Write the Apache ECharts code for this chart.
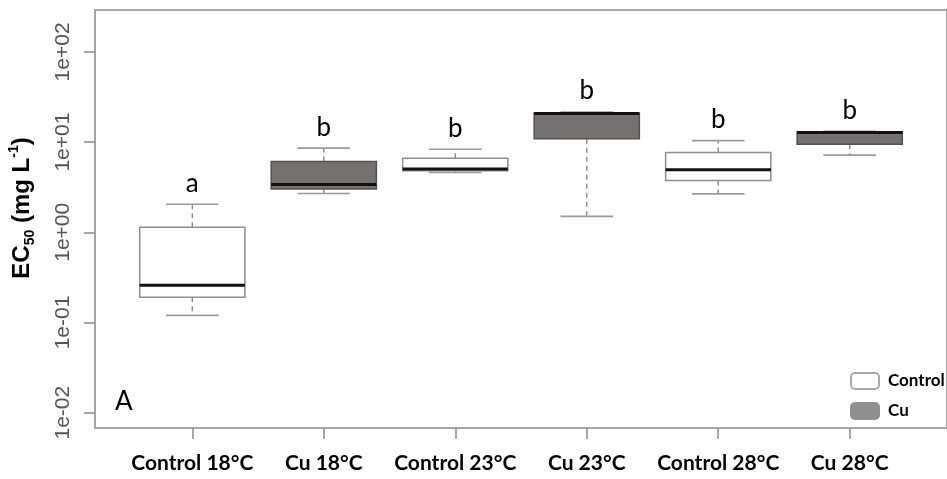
<!DOCTYPE html>
<html lang="en">
<head>
    <meta charset="UTF-8">
    <title>EC50 boxplot</title>
    <script type="text/javascript" src="https://cdn.jsdelivr.net/npm/echarts@6/dist/echarts.min.js"></script>
    <style>
        html, body { margin: 0; padding: 0; background: #fff; }
        #main { width: 947px; height: 479px; }
    </style>
</head>
<body>
<div id="main"></div>
<script type="text/javascript">
// groups along the x axis
var categories = ['Control 18°C', 'Cu 18°C', 'Control 23°C', 'Cu 23°C', 'Control 28°C', 'Cu 28°C'];
var groups = ['Control', 'Cu', 'Control', 'Cu', 'Control', 'Cu'];
var letters = ['a', 'b', 'b', 'b', 'b', 'b'];

// box statistics, EC50 in mg/L
var ecMin    = [0.120, 2.69, 4.60, 1.50, 2.67, 7.17];
var ecQ1     = [0.191, 3.03, 4.80, 10.9, 3.75, 9.49];
var ecMedian = [0.258, 3.39, 5.05, 20.7, 4.93, 12.8];
var ecQ3     = [1.14, 6.09, 6.64, 20.9, 7.66, 13.0];
var ecMax    = [2.05, 8.57, 8.35, 21.6, 10.4, 13.2];

// y ticks (log scale)
var yTicks = [0.01, 0.1, 1, 10, 100];

var styles = {
    Control: { fill: '#ffffff', stroke: '#8f8f8f', legend: '#ffffff', legendBorder: '#a8a8a8' },
    Cu: { fill: '#767171', stroke: '#555151', legend: '#8f8f8f', legendBorder: '#8f8f8f' }
};

function seriesData(name) {
    var out = [];
    for (var i = 0; i < categories.length; i++) {
        if (groups[i] !== name) continue;
        out.push([i + 1, Math.log10(ecMin[i]), Math.log10(ecQ1[i]), Math.log10(ecMedian[i]),
            Math.log10(ecQ3[i]), Math.log10(ecMax[i])]);
    }
    return out;
}

function makeRender(name) {
    var st = styles[name];
    return function (params, api) {
        var x = api.value(0);
        var pMin = api.coord([x, api.value(1)]);
        var pQ1 = api.coord([x, api.value(2)]);
        var pMed = api.coord([x, api.value(3)]);
        var pQ3 = api.coord([x, api.value(4)]);
        var pMax = api.coord([x, api.value(5)]);
        var band = api.size([1, 0])[0];
        var hb = band * 0.4, hc = band * 0.2;
        var cx = pMed[0];
        var whisk = { stroke: '#8a8a8a', lineWidth: 1.4, lineDash: [5, 4] };
        var cap = { stroke: '#9a9a9a', lineWidth: 1.6 };
        return {
            type: 'group',
            children: [
                { type: 'line', shape: { x1: cx, y1: pQ3[1], x2: cx, y2: pMax[1] }, style: whisk },
                { type: 'line', shape: { x1: cx, y1: pQ1[1], x2: cx, y2: pMin[1] }, style: whisk },
                { type: 'line', shape: { x1: cx - hc, y1: pMax[1], x2: cx + hc, y2: pMax[1] }, style: cap },
                { type: 'line', shape: { x1: cx - hc, y1: pMin[1], x2: cx + hc, y2: pMin[1] }, style: cap },
                { type: 'rect', shape: { x: cx - hb, y: pQ3[1], width: hb * 2, height: pQ1[1] - pQ3[1] },
                  style: { fill: st.fill, stroke: st.stroke, lineWidth: 1.5 } },
                { type: 'line', shape: { x1: cx - hb, y1: pMed[1], x2: cx + hb, y2: pMed[1] },
                  style: { stroke: '#111', lineWidth: 3 } },
                { type: 'text', style: { text: letters[Math.round(x) - 1], x: cx, y: pMax[1] - 21,
                  align: 'center', verticalAlign: 'middle', font: '26px Lato', fill: '#000' } }
            ]
        };
    };
}

var chart = echarts.init(document.getElementById('main'));
var option = {
    animation: false,
    grid: { left: 95, top: 10, width: 864, height: 418, show: true, borderColor: '#a6a6a6', borderWidth: 2 },
    xAxis: {
        type: 'value', min: 0.26, max: 6.74,
        axisLine: { show: false, onZero: false },
        splitLine: { show: false },
        axisTick: { show: true, length: 11, customValues: [1, 2, 3, 4, 5, 6], lineStyle: { color: '#8c8c8c', width: 1.5 } },
        axisLabel: {
            customValues: [1, 2, 3, 4, 5, 6], margin: 25,
            formatter: function (v) { return categories[Math.round(v) - 1]; },
            fontFamily: 'Lato', fontWeight: 'bold', fontSize: 21, color: '#000'
        }
    },
    yAxis: {
        type: 'value', min: -2.17, max: 2.465,
        axisLine: { show: false, onZero: false },
        splitLine: { show: false },
        axisTick: { show: true, length: 11, customValues: yTicks.map(Math.log10), lineStyle: { color: '#8c8c8c', width: 1.5 } },
        axisLabel: {
            customValues: yTicks.map(Math.log10), rotate: 90, margin: 21,
            formatter: function (v) {
                var e = Math.round(v);
                return '1e' + (e < 0 ? '-' : '+') + String(Math.abs(e)).padStart(2, '0');
            },
            fontFamily: 'Liberation Sans', fontSize: 21, color: '#555'
        }
    },
    legend: {
        data: ['Control', 'Cu'], orient: 'vertical', left: 845, top: 367,
        itemWidth: 28, itemHeight: 16, itemGap: 12, icon: 'roundRect',
        textStyle: { fontFamily: 'Lato', fontWeight: 'bold', fontSize: 17, color: '#000', padding: [0, 0, 0, 4] }
    },
    graphic: [
        { type: 'text', left: 115, top: 389, style: { text: 'A', font: '26px Lato', fill: '#000' } },
        {
            type: 'text', x: 22, y: 208, rotation: Math.PI / 2,
            style: {
                text: '{m|EC}{s|50}{m| (mg L}{p|-1}{m|)}',
                align: 'center', verticalAlign: 'middle',
                rich: {
                    m: { fontFamily: 'Liberation Sans', fontWeight: 'bold', fontSize: 24, lineHeight: 30, fill: '#000' },
                    s: { fontFamily: 'Liberation Sans', fontWeight: 'bold', fontSize: 14, lineHeight: 16, verticalAlign: 'bottom', fill: '#000' },
                    p: { fontFamily: 'Liberation Sans', fontWeight: 'bold', fontSize: 14, lineHeight: 16, verticalAlign: 'top', fill: '#000' }
                }
            }
        }
    ],
    series: ['Control', 'Cu'].map(function (name) {
        return {
            name: name, type: 'custom', silent: true,
            itemStyle: { color: styles[name].legend, borderColor: styles[name].legendBorder, borderWidth: 1.5 },
            encode: { x: 0, y: [1, 2, 3, 4, 5] },
            data: seriesData(name),
            renderItem: makeRender(name)
        };
    })
};
chart.setOption(option);
</script>
</body>
</html>
